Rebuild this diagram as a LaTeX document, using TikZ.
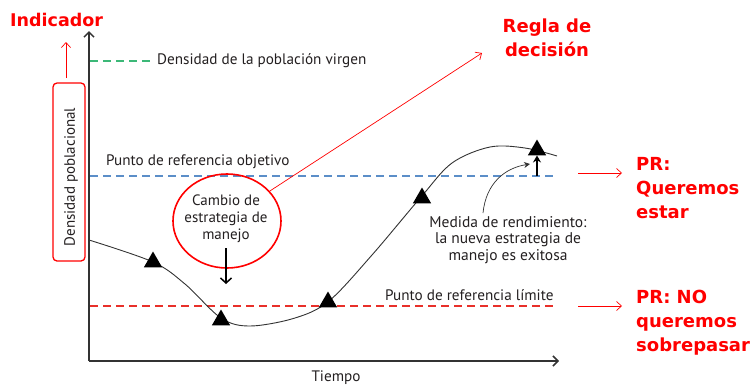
\documentclass[tikz,border=0pt]{standalone}
\usepackage{fontspec}
\setmainfont{PT Sans}
\newfontfamily\redfont{DejaVu Sans}
\usetikzlibrary{arrows.meta,shapes.geometric}
\definecolor{txt}{HTML}{231F20}
\definecolor{axgray}{HTML}{333333}
\definecolor{pblue}{HTML}{5B8EC8}
\definecolor{pred}{HTML}{E8302A}
\definecolor{pgreen}{HTML}{3CB878}
\definecolor{rr}{HTML}{FF0000}
\tikzset{
  lbl/.style={text=txt,font=\fontsize{15.2}{17}\selectfont,inner sep=0pt},
  redlbl/.style={text=rr,font=\redfont\bfseries\fontsize{18}{24}\selectfont,inner sep=0pt,align=left},
  tri/.style={regular polygon,regular polygon sides=3,fill=black,draw=none,minimum size=21pt,inner sep=0pt},
  refline/.style={dashed,dash pattern=on 8pt off 5pt,line width=2pt},
  redarrow/.style={draw=rr,line width=0.7pt,-{Straight Barb[length=5pt,width=9pt]}},
  axis/.style={draw=axgray,line width=2pt,-{Straight Barb[length=5pt,width=10pt,line width=1.5pt]}},
}
\begin{document}
\begin{tikzpicture}[x=1pt,y=-1pt]
\useasboundingbox (0,0) rectangle (752,386);
% axes
\coordinate (origin) at (89,361);
\coordinate (ytip) at (89,31);
\coordinate (xtip) at (559,361);
\draw[axis] (origin) -- (ytip);
\draw[axis] (origin) -- (xtip);
% reference lines
\coordinate (g0) at (90,61); \coordinate (g1) at (150,61);
\draw[refline,draw=pgreen] (g0) -- (g1);
\node[lbl,anchor=west] (virgen) at (157,61) {Densidad de la población virgen};
\coordinate (b0) at (90,176); \coordinate (b1) at (553,176);
\draw[refline,draw=pblue] (b0) -- (b1);
\node[lbl,anchor=west] (objetivo) at (106,162) {Punto de referencia objetivo};
\coordinate (r0) at (90,306); \coordinate (r1) at (553,306);
\draw[refline,draw=pred] (r0) -- (r1);
\node[lbl,anchor=west] (limite) at (385,295) {Punto de referencia límite};
\node[lbl] (tiempo) at (336,378) {Tiempo};
% curve
\draw[line width=0.9pt,draw=black!80] plot[smooth,tension=0.55] coordinates {
 (89,240) (153,262) (185,284) (221,318) (250,326) (295,318) (329,301) (372,255) (421,197) (452,163) (490,147) (525,148) (557,156)};
\node[tri] (t1) at (153,262) {};
\node[tri] (t2) at (221,320) {};
\node[tri] (t3) at (328,302) {};
\node[tri] (t4) at (422,198) {};
\node[tri] (t5) at (537,150) {};
\coordinate (upfoot) at (537,176);
\draw[line width=2pt,-{Stealth[length=7pt,width=8pt]}] (upfoot) -- (t5.south);
% medida
\node[lbl,align=center,font=\fontsize{15.5}{16.5}\selectfont] (medida) at (508,240) {Medida de rendimiento:\\la nueva estrategia de\\manejo es exitosa};
\coordinate (medtip) at (530,164);
\coordinate (medfoot) at (483,213);
\draw[line width=0.7pt,draw=black!80,-{Stealth[length=6pt,width=6pt]}] (medfoot) .. controls (486,183) and (505,168) .. (medtip);
% ellipse
\node[ellipse,draw=rr,line width=1.6pt,minimum width=108pt,minimum height=94pt,inner sep=0pt] (cambio) at (227,221) {};
\node[lbl,align=center,font=\fontsize{15}{17}\selectfont] (cambiotxt) at (226,219) {Cambio de\\estrategia de\\manejo};
\coordinate (cup) at (226,248);
\coordinate (cdown) at (226,284);
\draw[line width=1.8pt,-{Straight Barb[length=5pt,width=11pt,line width=1.5pt]}] (cup) -- (cdown);
% regla
\node[redlbl,align=center] (regla) at (547,38) {Regla de\\decisión};
\coordinate (reglatip) at (482,53);
\draw[redarrow] (cambio.35) -- (reglatip);
% indicador
\node[redlbl,anchor=west,font=\redfont\bfseries\fontsize{17.5}{22}\selectfont] (indicador) at (10,20) {Indicador};
\node[draw=rr,line width=1.3pt,rounded corners=4pt,minimum width=32pt,minimum height=178pt,inner sep=0pt] (dpbox) at (69,172) {};
\node[lbl,rotate=90,font=\fontsize{15}{17}\selectfont] (dp) at (71,177) {Densidad poblacional};
\coordinate (indtip) at (66,42);
\coordinate (indfoot) at (66,78);
\draw[redarrow] (indfoot) -- (indtip);
% PR
\coordinate (p1a) at (578,173); \coordinate (p1b) at (622,173);
\draw[redarrow] (p1a) -- (p1b);
\node[redlbl,anchor=north west] (pr1) at (636,157) {PR:\\Queremos\\estar};
\coordinate (p2a) at (578,306); \coordinate (p2b) at (622,306);
\draw[redarrow] (p2a) -- (p2b);
\node[redlbl,anchor=north west] (pr2) at (636,290) {PR: NO\\queremos\\sobrepasar};
\end{tikzpicture}
\end{document}
